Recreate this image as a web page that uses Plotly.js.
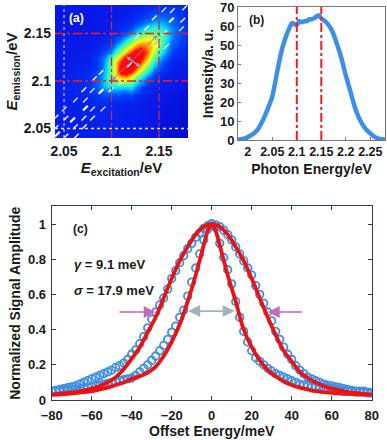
<!DOCTYPE html>
<html>
<head>
<meta charset="utf-8">
<script src="https://cdn.plot.ly/plotly-3.0.1.min.js"></script>
<style>
  html, body { margin: 0; padding: 0; background: #fff; }
</style>
</head>
<body>
<div id="chart" style="width:387px;height:440px"></div>
<script>
// panel (a) map, rows go up in emission energy
const mapX = [2.04, 2.075, 2.085, 2.09, 2.095, 2.1, 2.105, 2.11, 2.115, 2.12, 2.125, 2.13, 2.135, 2.14, 2.145, 2.15, 2.155, 2.165, 2.18];
const mapY = mapX.slice();
const mapZ = [
  [10, 10, 10, 10, 10, 10, 10, 9, 9, 9, 9, 8, 8, 8, 7, 7, 6, 5, 4],
  [10, 12, 14, 14, 14, 14, 13, 12, 11, 10, 11, 10, 9, 8, 8, 8, 7, 7, 5],
  [10, 14, 20, 22, 24, 24, 24, 23, 21, 24, 19, 15, 12, 10, 9, 8, 8, 7, 6],
  [10, 15, 24, 28, 32, 34, 33, 32, 30, 34, 27, 20, 16, 13, 10, 9, 8, 8, 6],
  [9, 16, 28, 34, 40, 44, 44, 44, 44, 45, 37, 28, 21, 16, 13, 10, 9, 8, 7],
  [9, 14, 26, 35, 44, 52, 55, 60, 60, 57, 48, 38, 29, 21, 16, 13, 10, 9, 7],
  [9, 16, 24, 33, 44, 55, 65, 72, 74, 68, 60, 49, 39, 29, 21, 16, 12, 9, 8],
  [9, 14, 22, 31, 44, 58, 68, 83, 84, 78, 70, 61, 49, 38, 28, 20, 15, 10, 8],
  [8, 13, 20, 29, 42, 56, 68, 84, 92, 89, 80, 70, 60, 48, 37, 27, 19, 11, 8],
  [8, 11, 18, 28, 40, 57, 68, 78, 89, 100, 89, 78, 68, 57, 45, 34, 24, 13, 9],
  [8, 11, 19, 27, 37, 48, 60, 70, 80, 89, 92, 84, 74, 65, 53, 41, 31, 17, 12],
  [8, 10, 15, 20, 28, 38, 49, 61, 70, 78, 84, 83, 77, 69, 59, 48, 37, 20, 12],
  [8, 9, 12, 16, 21, 29, 39, 49, 60, 68, 74, 77, 75, 70, 63, 53, 42, 23, 13],
  [8, 9, 10, 13, 16, 21, 29, 38, 48, 57, 65, 69, 70, 68, 63, 55, 45, 27, 15],
  [8, 8, 9, 10, 13, 16, 21, 28, 37, 45, 53, 59, 63, 63, 60, 54, 47, 30, 16],
  [8, 8, 8, 9, 10, 13, 16, 20, 27, 34, 41, 48, 53, 55, 54, 51, 45, 31, 17],
  [8, 8, 8, 8, 9, 10, 12, 15, 19, 24, 31, 37, 42, 45, 47, 45, 42, 31, 18],
  [7, 7, 8, 8, 8, 8, 9, 10, 11, 13, 17, 20, 23, 27, 30, 31, 31, 26, 15],
  [8, 8, 8, 8, 8, 8, 8, 8, 8, 9, 9, 10, 11, 12, 13, 13, 14, 15, 12]
];
const mapScale = [
  [0, "#0000b0"], [0.08, "#0818e8"], [0.2, "#0038f8"], [0.3, "#0070ff"],
  [0.38, "#00c8ff"], [0.45, "#30f0d0"], [0.54, "#70ff70"], [0.64, "#f0ff20"], [0.72, "#ff9000"],
  [0.78, "#ff1000"], [0.95, "#f00010"], [1, "#d80020"]
];

// white diagonal streaks on the map (centres)
const streakX = [2.177, 2.164, 2.155, 2.145, 2.175, 2.137, 2.1736, 2.156, 2.158, 2.149, 2.127, 2.119, 2.089, 2.11, 2.082, 2.071, 2.0796, 2.0996, 2.0725, 2.062, 2.08, 2.091, 2.0503, 2.071, 2.08, 2.0416, 2.052, 2.052, 2.063, 2.0415, 2.0715, 2.062];
const streakY = [2.177, 2.174, 2.175, 2.1665, 2.164, 2.156, 2.155, 2.151, 2.1366, 2.138, 2.1465, 2.117, 2.109, 2.098, 2.1025, 2.091, 2.09, 2.091, 2.08, 2.08, 2.0705, 2.0705, 2.0705, 2.061, 2.061, 2.062, 2.061, 2.042, 2.042, 2.051, 2.052, 2.052];
const longStreakX = [2.163, 2.089, 2.0725, 2.059, 2.043];
const longStreakY = [2.164, 2.089, 2.0715, 2.059, 2.044];
const streakHalf = 0.0025;

const redLines = [2.1, 2.15];
const whiteLine = 2.05;

// panel (b) spectrum
const specX = [1.98, 1.99, 2.0, 2.01, 2.02, 2.03, 2.04, 2.05, 2.06, 2.07, 2.08, 2.085, 2.09, 2.095, 2.1, 2.105, 2.11, 2.115, 2.12, 2.125, 2.13, 2.135, 2.14, 2.145, 2.15, 2.155, 2.16, 2.17, 2.18, 2.19, 2.2, 2.21, 2.22, 2.23, 2.24, 2.25, 2.26, 2.27, 2.28];
const specY = [0.3, 0.6, 1.5, 3, 5.5, 10, 16, 23, 36, 48, 56, 59, 61.5, 61, 60.5, 62.5, 62, 62.5, 62.5, 63.5, 63.5, 64, 65, 65.5, 64, 63, 62, 58.5, 52, 44, 34, 25, 16, 10, 6, 3.5, 1.5, 0.5, 0.2];

// panel (c) measured slices and fits
const offsetX = [-80, -78, -76, -74, -72, -70, -68, -66, -64, -62, -60, -58, -56, -54, -52, -50, -48, -46, -44, -42, -40, -38, -36, -34, -32, -30, -28, -26, -24, -22, -20, -18, -16, -14, -12, -10, -8, -6, -4, -2, 0, 2, 4, 6, 8, 10, 12, 14, 16, 18, 20, 22, 24, 26, 28, 30, 32, 34, 36, 38, 40, 42, 44, 46, 48, 50, 52, 54, 56, 58, 60, 62, 64, 66, 68, 70, 72, 74, 76, 78, 80];
const wideSlice = [0.05, 0.055, 0.06, 0.065, 0.07, 0.075, 0.08, 0.09, 0.1, 0.11, 0.12, 0.13, 0.14, 0.15, 0.16, 0.17, 0.185, 0.195, 0.21, 0.23, 0.26, 0.285, 0.32, 0.36, 0.41, 0.46, 0.5, 0.54, 0.58, 0.63, 0.69, 0.735, 0.78, 0.82, 0.86, 0.89, 0.925, 0.95, 0.975, 0.99, 1, 0.995, 0.985, 0.965, 0.94, 0.91, 0.87, 0.83, 0.79, 0.75, 0.71, 0.65, 0.6, 0.55, 0.5, 0.45, 0.39, 0.345, 0.3, 0.26, 0.23, 0.195, 0.17, 0.15, 0.13, 0.12, 0.11, 0.1, 0.09, 0.085, 0.08, 0.075, 0.07, 0.065, 0.06, 0.055, 0.05, 0.05, 0.05, 0.045, 0.04];
const narrowSlice = [0.05, 0.05, 0.05, 0.055, 0.055, 0.06, 0.06, 0.065, 0.07, 0.07, 0.075, 0.08, 0.085, 0.09, 0.095, 0.1, 0.105, 0.11, 0.115, 0.12, 0.125, 0.14, 0.16, 0.18, 0.2, 0.225, 0.25, 0.28, 0.31, 0.345, 0.385, 0.42, 0.47, 0.51, 0.59, 0.67, 0.75, 0.83, 0.91, 0.97, 1, 0.98, 0.89, 0.81, 0.74, 0.66, 0.56, 0.47, 0.39, 0.33, 0.28, 0.24, 0.22, 0.2, 0.18, 0.165, 0.15, 0.14, 0.13, 0.12, 0.11, 0.1, 0.09, 0.085, 0.08, 0.075, 0.075, 0.075, 0.07, 0.07, 0.065, 0.06, 0.055, 0.05, 0.05, 0.05, 0.045, 0.045, 0.045, 0.04, 0.04];

const wideFitX = [-80, -76, -72, -68, -64, -60, -56, -52, -48, -44, -40, -36, -32, -28, -24, -20, -16, -12, -8, -4, 0, 4, 8, 12, 16, 20, 24, 28, 32, 36, 40, 44, 48, 52, 56, 60, 64, 68, 72, 76, 80];
const wideFitY = [0.03, 0.035, 0.04, 0.045, 0.055, 0.065, 0.08, 0.1, 0.13, 0.175, 0.235, 0.3, 0.385, 0.47, 0.58, 0.69, 0.79, 0.87, 0.94, 0.985, 1, 0.985, 0.94, 0.87, 0.79, 0.69, 0.58, 0.47, 0.37, 0.28, 0.22, 0.16, 0.125, 0.1, 0.08, 0.065, 0.055, 0.045, 0.04, 0.035, 0.03];
const narrowFitX = [-80, -72, -64, -60, -56, -52, -48, -44, -40, -36, -32, -28, -24, -20, -16, -12, -8, -4, -2, 0, 2, 4, 8, 12, 16, 20, 24, 28, 32, 36, 40, 44, 48, 52, 56, 60, 68, 80];
const narrowFitY = [0.03, 0.035, 0.045, 0.05, 0.06, 0.07, 0.085, 0.1, 0.12, 0.135, 0.155, 0.19, 0.25, 0.33, 0.43, 0.56, 0.71, 0.88, 0.96, 1, 0.96, 0.88, 0.71, 0.56, 0.4, 0.3, 0.225, 0.17, 0.135, 0.105, 0.085, 0.07, 0.06, 0.05, 0.045, 0.04, 0.035, 0.03];

const W = 387, H = 440;
const bold = { family: "Liberation Sans, Arial, sans-serif", size: 14, color: "#1a1a1a", weight: 700 };
const blue = "#3d8fe3";
const purple = "#c56ab8";
const grey = "#a3b3ba";

function xdom(a, b) { return [a / W, b / W]; }
function ydom(top, bottom) { return [1 - bottom / H, 1 - top / H]; }

function streakTrace(xs, ys, width) {
  let x = [], y = [];
  xs.forEach((v, i) => {
    x.push(v - streakHalf, v + streakHalf, null);
    y.push(ys[i] - streakHalf, ys[i] + streakHalf, null);
  });
  return { type: "scatter", mode: "lines", x: x, y: y, xaxis: "x", yaxis: "y", hoverinfo: "skip",
    line: { color: "#ffffff", width: width } };
}

function vline(v, xr, yr, color, dash, width) {
  return { type: "line", xref: xr, yref: yr + " domain", x0: v, x1: v, y0: 0, y1: 1, line: { color: color, dash: dash, width: width } };
}
function hline(v, xr, yr, color, dash, width) {
  return { type: "line", xref: xr + " domain", yref: yr, x0: 0, x1: 1, y0: v, y1: v, line: { color: color, dash: dash, width: width } };
}

function arrow(xr, yr, tailX, tailY, tipX, tipY, color, w, size, side) {
  return { xref: xr, yref: yr, axref: xr, ayref: yr, x: tipX, y: tipY, ax: tailX, ay: tailY, text: "",
    showarrow: true, arrowhead: 2, startarrowhead: 2, arrowside: side || "end", arrowsize: size, startarrowsize: size, arrowwidth: w, arrowcolor: color };
}
function label(xr, yr, x, y, text, color, size) {
  return { xref: xr, yref: yr, x: x, y: y, text: text, showarrow: false, xanchor: "left", yanchor: "middle",
    font: { family: bold.family, size: size, color: color, weight: 700 } };
}

const traces = [
  { type: "heatmap", x: mapX, y: mapY, z: mapZ, zmin: 0, zmax: 100, zsmooth: "best", colorscale: mapScale, showscale: false, xaxis: "x", yaxis: "y", hoverinfo: "skip" },
  streakTrace(streakX, streakY, 1.3),
  streakTrace(longStreakX, longStreakY, 2.2),
  { type: "scatter", mode: "lines", x: specX, y: specY, xaxis: "x2", yaxis: "y2", line: { color: blue, width: 4.5, shape: "spline" }, hoverinfo: "skip" },
  { type: "scatter", mode: "markers", x: offsetX, y: wideSlice, xaxis: "x3", yaxis: "y3", hoverinfo: "skip",
    marker: { symbol: "circle-open", size: 7.5, color: blue, line: { color: blue, width: 1.8 } } },
  { type: "scatter", mode: "markers", x: offsetX, y: narrowSlice, xaxis: "x3", yaxis: "y3", hoverinfo: "skip",
    marker: { symbol: "circle-open", size: 7.5, color: blue, line: { color: blue, width: 1.8 } } },
  { type: "scatter", mode: "lines", x: wideFitX, y: wideFitY, xaxis: "x3", yaxis: "y3", line: { color: "#ee1111", width: 3.8, shape: "spline" }, hoverinfo: "skip" },
  { type: "scatter", mode: "lines", x: narrowFitX, y: narrowFitY, xaxis: "x3", yaxis: "y3", line: { color: "#ee1111", width: 3.8, shape: "spline" }, hoverinfo: "skip" }
];

const shapes = [
  vline(whiteLine, "x", "y", "#e8e8e8", "dot", 1),
  hline(whiteLine, "x", "y", "#e8e8e8", "dot", 1.3)
];
redLines.forEach(v => {
  shapes.push(vline(v, "x", "y", "#e8202a", "dashdot", 1.2));
  shapes.push(hline(v, "x", "y", "#e8202a", "dashdot", 1.6));
  shapes.push(vline(v, "x2", "y2", "#e8202a", "dashdot", 2));
});

const annotations = [
  label("x domain", "y domain", 0.09, 0.9, "(a)", "#ffffff", 12),
  label("x2 domain", "y2 domain", 0.06, 0.905, "(b)", "#1a1a1a", 12),
  label("x3", "y3", -70.5, 0.97, "(c)", "#1a1a1a", 12),
  label("x3", "y3", -70, 0.77, "<i>γ</i> = 9.1 meV", "#1a1a1a", 13),
  label("x3", "y3", -70, 0.625, "<i>σ</i> = 17.9 meV", "#1a1a1a", 13),
  arrow("x3", "y3", -47, 0.5, -28, 0.5, purple, 1.6, 1.5),
  arrow("x3", "y3", 46, 0.5, 28, 0.5, purple, 1.6, 1.5),
  arrow("x3", "y3", -12.5, 0.505, 11.5, 0.505, grey, 1.6, 1.5, "end+start"),
  arrow("x", "y", 2.099, 2.099, 2.148, 2.148, purple, 1, 0.8, "end+start"),
  arrow("x", "y", 2.114, 2.127, 2.13, 2.115, grey, 1.2, 0.7, "end+start")
];

const layout = {
  width: W, height: H,
  margin: { l: 0, r: 0, t: 0, b: 0 },
  paper_bgcolor: "#fff", plot_bgcolor: "#fff",
  showlegend: false,
  font: bold,
  shapes: shapes,
  annotations: annotations,
  xaxis: {
    domain: xdom(55, 188), range: [2.0405, 2.1805], anchor: "y",
    tickvals: [2.05, 2.1, 2.15], ticktext: ["2.05", "2.1", "2.15"], ticks: "", showgrid: false, zeroline: false, showline: false,
    tickfont: bold, ticklabelstandoff: 3,
    title: { text: "<b><i>E</i><sub>excitation</sub>/eV</b>", font: { family: bold.family, size: 15, color: "#1a1a1a" }, standoff: 4 }
  },
  yaxis: {
    domain: ydom(5, 138), range: [2.04, 2.18], anchor: "x",
    tickvals: [2.05, 2.1, 2.15], ticktext: ["2.05", "2.1", "2.15"], ticks: "", showgrid: false, zeroline: false, showline: false,
    tickfont: bold, ticklabelstandoff: 3,
    title: { text: "<b><i>E</i><sub>emission</sub>/eV</b>", font: { family: bold.family, size: 15, color: "#1a1a1a" }, standoff: 2 }
  },
  xaxis2: {
    domain: xdom(238, 385), range: [1.98, 2.28], anchor: "y2",
    tickvals: [2, 2.05, 2.1, 2.15, 2.2, 2.25], ticktext: ["2", "2.05", "2.1", "2.15", "2.2", "2.25"],
    ticks: "inside", ticklen: 3, tickcolor: "#777", showgrid: false, zeroline: false, showline: true, linecolor: "#777", mirror: true,
    tickfont: { family: bold.family, size: 12.5, color: "#1a1a1a", weight: 700 },
    title: { text: "<b>Photon Energy/eV</b>", font: { family: bold.family, size: 14, color: "#1a1a1a" }, standoff: 6 }
  },
  yaxis2: {
    domain: ydom(7, 140), range: [0, 70], anchor: "x2",
    tickvals: [0, 10, 20, 30, 40, 50, 60, 70], ticklabeloverflow: "allow",
    ticks: "inside", ticklen: 3, tickcolor: "#777", showgrid: false, zeroline: false, showline: true, linecolor: "#777", mirror: true,
    tickfont: { family: bold.family, size: 13, color: "#1a1a1a", weight: 700 },
    title: { text: "<b>Intensity/a. u.</b>", font: { family: bold.family, size: 14, color: "#1a1a1a" }, standoff: 3 }
  },
  xaxis3: {
    domain: xdom(51.7, 371.7), range: [-80, 80], anchor: "y3", dtick: 20, ticklabelstandoff: 3,
    ticks: "inside", ticklen: 4, tickcolor: "#2c3a55", showgrid: false, zeroline: false, showline: true, linecolor: "#2c3a55", mirror: "ticks",
    tickfont: { family: bold.family, size: 13, color: "#1a1a1a", weight: 700 },
    title: { text: "<b>Offset Energy/meV</b>", font: { family: bold.family, size: 14, color: "#1a1a1a" }, standoff: 3 }
  },
  yaxis3: {
    domain: ydom(206.4, 400), range: [0, 1.1], anchor: "x3",
    tickvals: [0, 0.2, 0.4, 0.6, 0.8, 1], ticktext: ["0", "0.2", "0.4", "0.6", "0.8", "1"],
    ticks: "inside", ticklen: 4, tickcolor: "#2c3a55", showgrid: false, zeroline: false, showline: true, linecolor: "#2c3a55", mirror: "ticks",
    tickfont: { family: bold.family, size: 13, color: "#1a1a1a", weight: 700 }, ticklabelstandoff: 2,
    title: { text: "<b>Normalized Signal Amplitude</b>", font: { family: bold.family, size: 14, color: "#1a1a1a" }, standoff: 4 }
  }
};

Plotly.newPlot("chart", traces, layout, { displayModeBar: false, staticPlot: true });
</script>
</body>
</html>
